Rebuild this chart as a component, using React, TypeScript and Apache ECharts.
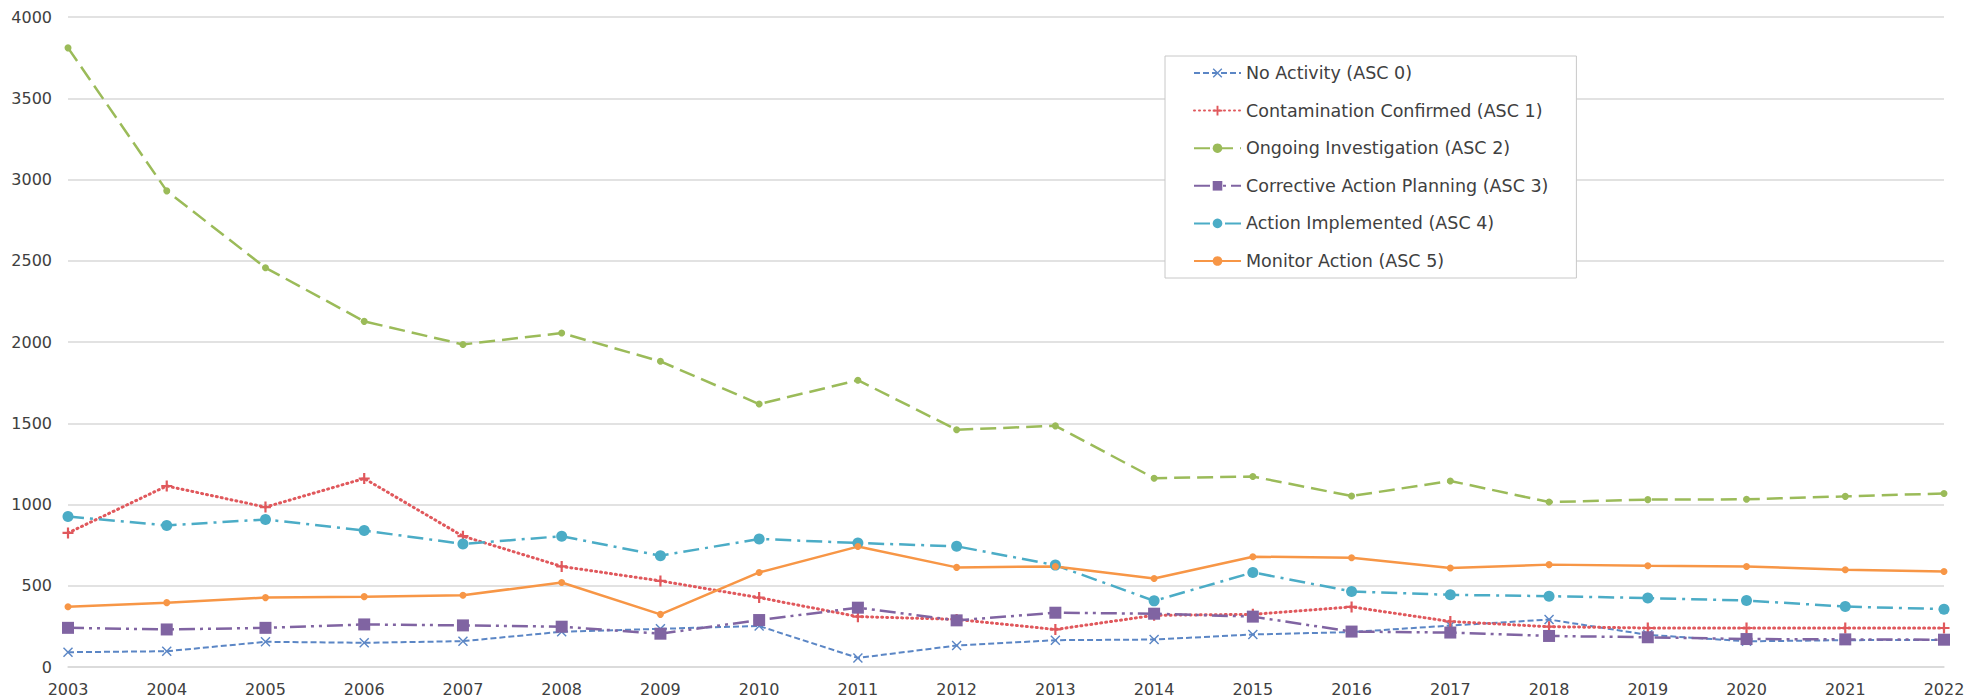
import React, { useEffect, useRef } from "react";
import * as echarts from "echarts";

const years = ["2003","2004","2005","2006","2007","2008","2009","2010","2011","2012","2013","2014","2015","2016","2017","2018","2019","2020","2021","2022"];

const noActivity = [91, 97, 155, 149, 159, 217, 235, 252, 56, 132, 165, 169, 200, 215, 255, 292, 198, 158, 165, 167];
const contamination = [825, 1114, 984, 1160, 805, 619, 530, 427, 310, 293, 231, 318, 324, 370, 280, 248, 240, 240, 240, 240];
const ongoing = [3810, 2930, 2457, 2127, 1985, 2055, 1881, 1618, 1765, 1460, 1484, 1162, 1172, 1052, 1145, 1015, 1030, 1032, 1050, 1068];
const corrective = [241, 231, 241, 262, 256, 248, 205, 289, 365, 287, 334, 328, 310, 218, 212, 191, 183, 172, 170, 168];
const implemented = [926, 871, 908, 840, 757, 805, 685, 788, 763, 743, 627, 407, 582, 465, 444, 436, 424, 409, 372, 356];
const monitor = [371, 396, 427, 433, 442, 520, 324, 582, 741, 613, 619, 545, 679, 672, 609, 630, 623, 619, 599, 588];

const names = [
  "No Activity (ASC 0)",
  "Contamination Confirmed (ASC 1)",
  "Ongoing Investigation (ASC 2)",
  "Corrective Action Planning (ASC 3)",
  "Action Implemented (ASC 4)",
  "Monitor Action (ASC 5)",
];

const X_PATH = "path://M0,1L1,0L5,4L9,0L10,1L6,5L10,9L9,10L5,6L1,10L0,9L4,5Z";
const PLUS_PATH = "path://M4,0L6,0L6,4L10,4L10,6L6,6L6,10L4,10L4,6L0,6L0,4L4,4Z";

export default function App() {
  const ref = useRef<HTMLDivElement>(null);
  useEffect(() => {
    if (!ref.current) return;
    const chart = echarts.init(ref.current, null, { renderer: "svg" });
    const font = "DejaVu Sans";
    const mk = (name: string, data: number[], color: string, type: any, symbol: string, symbolSize: number, width = 2.5, cap: any = "butt") => ({
      name,
      type: "line",
      data,
      symbol,
      symbolSize,
      showSymbol: true,
      itemStyle: { color },
      lineStyle: { color, width, type, cap },
      z: 2,
    });
    chart.setOption({
      animation: false,
      grid: { left: 68, right: 25, top: 17, bottom: 32, containLabel: false },
      legend: {
        orient: "vertical",
        left: 1165,
        top: 56,
        padding: [7, 28, 7, 28],
        itemWidth: 47,
        itemHeight: 12,
        itemGap: 17.6,
        borderColor: "#c8c8c8",
        borderWidth: 1,
        backgroundColor: "#ffffff",
        textStyle: { fontFamily: font, fontSize: 17.5, color: "#404040", lineHeight: 20 },
        data: names,
      },
      xAxis: {
        type: "category",
        data: years,
        boundaryGap: false,
        axisLine: { show: true, lineStyle: { color: "#d9d9d9", width: 1.5 } },
        axisTick: { show: false },
        axisLabel: { fontFamily: font, fontSize: 16, color: "#404040", margin: 14 },
      },
      yAxis: {
        type: "value",
        min: 0,
        max: 4000,
        interval: 500,
        axisLine: { show: false },
        axisTick: { show: false },
        splitLine: { lineStyle: { color: "#d9d9d9", width: 1.5 } },
        axisLabel: { fontFamily: font, fontSize: 16, color: "#404040", margin: 16, formatter: (v: number) => String(v) },
      },
      series: [
        mk(names[0], noActivity, "#5b86c5", [6, 3], X_PATH, 10, 2),
        mk(names[1], contamination, "#e0585c", [1, 4], PLUS_PATH, 11, 3, "round"),
        mk(names[2], ongoing, "#9bbb59", [16, 7], "circle", 7, 2.5),
        mk(names[3], corrective, "#8064a2", [16, 5, 3, 5, 3, 5], "rect", 12, 2.5),
        mk(names[4], implemented, "#4bacc6", [16, 6, 3, 6], "circle", 11, 2.5),
        mk(names[5], monitor, "#f79646", "solid", "circle", 7, 2.5),
      ],
    });
    return () => chart.dispose();
  }, []);
  return (
    <div
      ref={ref}
      style={{ position: "fixed", left: 0, top: 0, width: "1969px", height: "699px", background: "#fff" }}
    />
  );
}
